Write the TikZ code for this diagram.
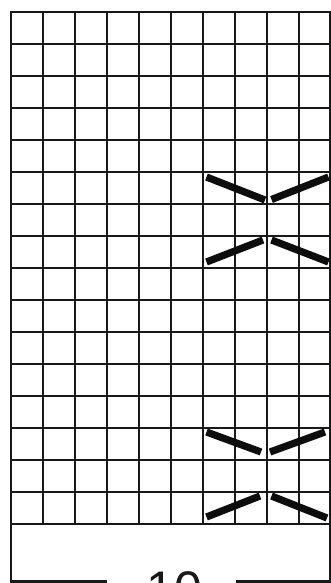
\documentclass[tikz,border=0pt]{standalone}
\usepackage{fontspec}
\setmainfont{Liberation Sans}
\tikzset{
  gridline/.style={line width=2pt, draw=black!90},
  border/.style={line width=2.8pt, draw=black!90},
  decmark/.style={line width=7.2pt, draw=black!95, line cap=butt},
  numlabel/.style={font=\fontsize{50}{60}\selectfont, text=black!90, inner sep=0pt, anchor=base}
}
\begin{document}
\begin{tikzpicture}[x=1pt,y=-1pt]
\useasboundingbox (0,0) rectangle (331,583);
\fill[white] (0,0) rectangle (331,583);
% grid
\foreach \i in {1,...,9} \draw[gridline] ({11+\i*32},12) -- ({11+\i*32},524);
\foreach \j in {1,...,15} \draw[gridline] (11,{12+\j*32}) -- (330,{12+\j*32});
\draw[border] (11,12) rectangle (330,524);
% decrease marks
\draw[decmark] (206.5,177) -- (265,200);
\draw[decmark] (271.5,199.5) -- (328.5,177);
\draw[decmark] (206.5,262) -- (263,240);
\draw[decmark] (271.5,240) -- (328.5,262);
\draw[decmark] (206.5,432) -- (261,452);
\draw[decmark] (270,452) -- (325,432);
\draw[decmark] (206.5,517) -- (260,496);
\draw[decmark] (271.5,496) -- (327,518);
% dimension bracket
\coordinate (bl) at (107,581.5);
\coordinate (br) at (236,581.5);
\draw[border] (bl) -- (11,581.5) -- (11,524);
\draw[border] (br) -- (330,581.5) -- (330,524);
\node[numlabel] (lbl) at (174.5,606) {10};
\end{tikzpicture}
\end{document}
